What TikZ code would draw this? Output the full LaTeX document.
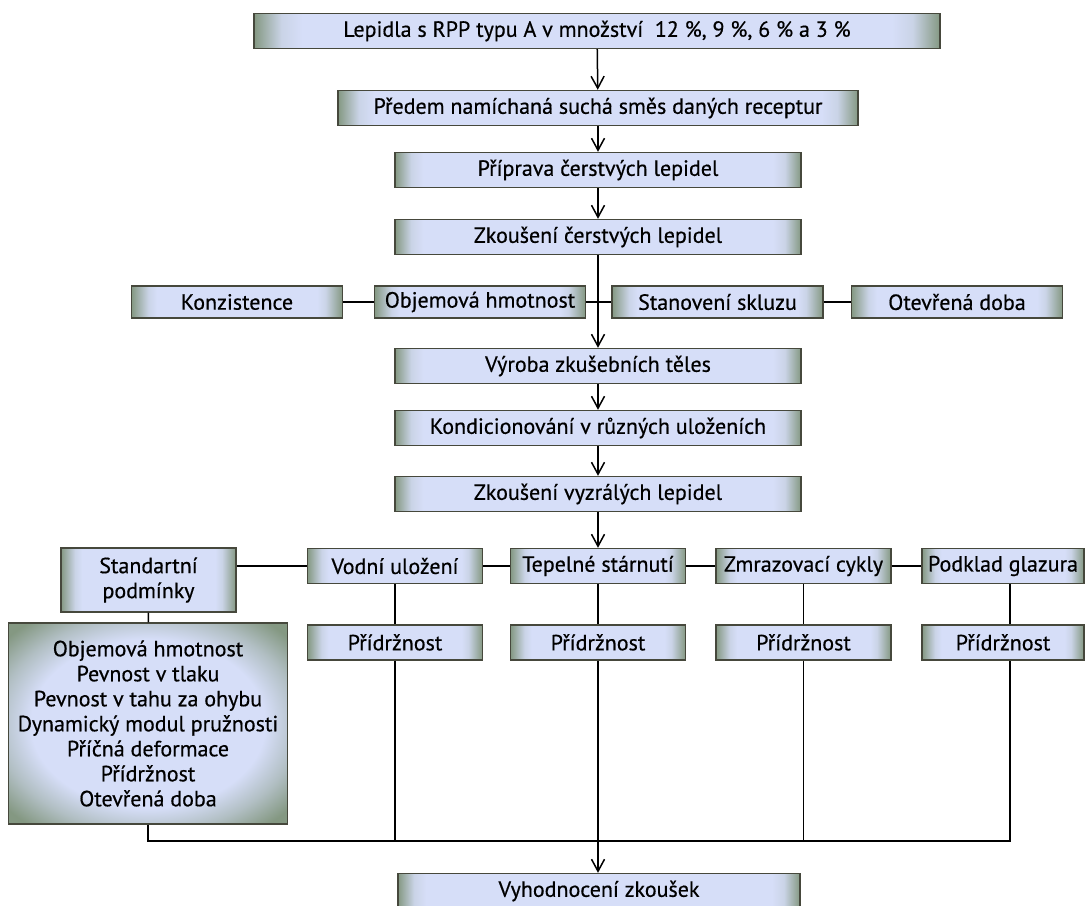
\documentclass[tikz,border=0pt]{standalone}
\usepackage{fontspec}
\setmainfont{PT Sans}
\newfontfamily\boxfont{PT Sans}[FakeBold=0.5]
\usepackage{tikz}
\usetikzlibrary{arrows.meta, positioning}
\definecolor{edgecol}{RGB}{132,152,130}
\definecolor{midcol}{RGB}{214,222,248}
\definecolor{framecol}{RGB}{70,72,60}
\pgfdeclarehorizontalshading{boxshade}{100bp}{color(0bp)=(edgecol); color(25bp)=(edgecol);
  color(29bp)=(midcol!85!edgecol); color(31bp)=(midcol); color(69bp)=(midcol);
  color(71bp)=(midcol!85!edgecol); color(75bp)=(edgecol); color(100bp)=(edgecol)}
\pgfdeclarehorizontalshading{wideshade}{100bp}{color(0bp)=(edgecol); color(25bp)=(edgecol);
  color(27bp)=(midcol!85!edgecol); color(28.5bp)=(midcol); color(71.5bp)=(midcol);
  color(73bp)=(midcol!85!edgecol); color(75bp)=(edgecol); color(100bp)=(edgecol)}
\pgfdeclareradialshading{bigshade}{\pgfpoint{0bp}{0bp}}{color(0bp)=(midcol); color(21bp)=(midcol);
  color(27bp)=(midcol!55!edgecol); color(33bp)=(edgecol); color(50bp)=(edgecol)}

\begin{document}
\begin{tikzpicture}[
  x=0.5pt, y=-0.5pt,
  box/.style={rectangle, draw=framecol, line width=0.7pt, shading=boxshade,
              inner sep=0pt, align=center, minimum height=17.5pt,
              font=\boxfont\fontsize{11}{12.5}\selectfont},
  wide/.style={box, shading=wideshade, minimum width=203pt},
  side/.style={box, minimum width=105.5pt, minimum height=16pt},
  cond/.style={box, minimum width=87.5pt},
  line/.style={line width=0.75pt},
  arrow/.style={line, -{Straight Barb[length=6pt, width=6.5pt]}}
]
  \useasboundingbox (0,0) rectangle (1086,905);

  % main column
  \node[wide, minimum width=343pt] (lep) at (597,31) {Lepidla s RPP typu A v množství \ 12~\%, 9~\%, 6~\% a 3~\%};
  \node[wide, minimum width=260pt] (mix) at (598,108) {Předem namíchaná suchá směs daných receptur};
  \node[wide] (prep) at (598,170) {Příprava čerstvých lepidel};
  \node[wide] (fresh) at (598,237) {Zkoušení čerstvých lepidel};
  \node[wide] (vyroba) at (598,366) {Výroba zkušebních těles};
  \node[wide] (kond) at (598,428) {Kondicionování v různých uloženích};
  \node[wide] (zral) at (598,494) {Zkoušení vyzrálých lepidel};
  \node[wide, minimum width=201pt] (vyh) at (599,891) {Vyhodnocení zkoušek};

  % tests of fresh adhesives
  \node[side] (kons) at (237,302) {Konzistence};
  \node[side] (objem) at (480,302) {Objemová hmotnost};
  \node[side] (skluz) at (717.5,302) {Stanovení skluzu};
  \node[side] (oteb) at (957,302) {Otevřená doba};

  % storage conditions
  \node[cond, minimum height=32pt] (std) at (148.5,580) {Standartní\\podmínky};
  \node[cond] (vodni) at (395,566) {Vodní uložení};
  \node[cond] (tepl) at (598,566) {Tepelné stárnutí};
  \node[cond] (zmraz) at (803.5,566) {Zmrazovací cykly};
  \node[cond, minimum width=81pt] (podkl) at (1003,566) {Podklad glazura};

  \node[cond, below=20pt of vodni] (prid1) {Přídržnost};
  \node[cond, below=20pt of tepl] (prid2) {Přídržnost};
  \node[cond, below=20pt of zmraz] (prid3) {Přídržnost};
  \node[cond, minimum width=81pt, below=20pt of podkl] (prid4) {Přídržnost};
  \node[box, shading=bigshade, minimum width=139.5pt, minimum height=100.5pt] (big) at (148,723.5)
    {Objemová hmotnost\\Pevnost v tlaku\\Pevnost v tahu za ohybu\\Dynamický modul pružnosti\\Příčná deformace\\Přídržnost\\Otevřená doba};

  \coordinate (join) at (598,841);

  \draw[arrow] (lep) -- (mix);
  \draw[arrow] (mix) -- (prep);
  \draw[arrow] (prep) -- (fresh);
  \draw[arrow] (fresh) -- (vyroba);
  \draw[arrow] (vyroba) -- (kond);
  \draw[arrow] (kond) -- (zral);
  \draw[arrow] (zral) -- (tepl);

  \draw[line] (kons) -- (objem);
  \draw[line] (objem) -- (skluz);
  \draw[line] (skluz) -- (oteb);

  \draw[line] (vodni.west) -- (vodni.west -| std.east);
  \draw[line] (vodni) -- (tepl);
  \draw[line] (tepl) -- (zmraz);
  \draw[line] (zmraz) -- (podkl);
  \draw[line] (std) -- (big);
  \draw[line] (vodni) -- (prid1);
  \draw[line] (tepl) -- (prid2);
  \draw[line] (zmraz) -- (prid3);
  \draw[line] ([xshift=3.5pt]podkl.south) -- ([xshift=3.5pt]prid4.north);

  % collecting line
  \draw[line] (big.south) -- (big.south |- join) -- ([xshift=3.5pt]prid4.south |- join) -- ([xshift=3.5pt]prid4.south);
  \draw[line] (prid1.south) -- (prid1.south |- join);
  \draw[line] (prid3.south) -- (prid3.south |- join);
  \draw[arrow] (prid2.south) -- (prid2.south |- vyh.north);
\end{tikzpicture}
\end{document}
